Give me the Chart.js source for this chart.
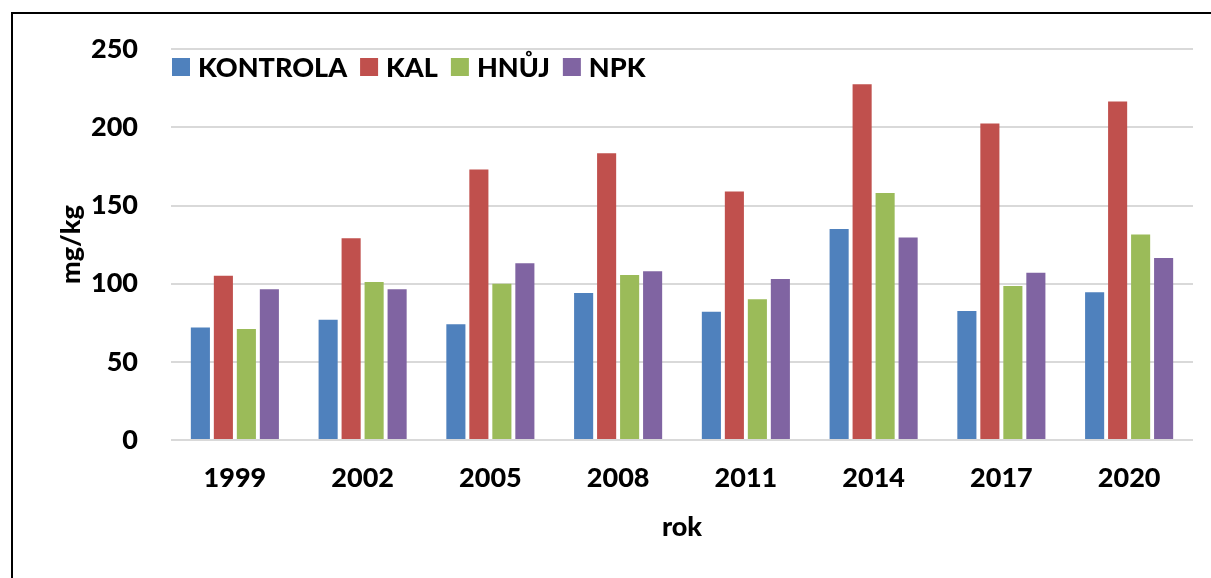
<!DOCTYPE html>
<html>
<head>
<meta charset="utf-8">
<script src="https://cdn.jsdelivr.net/npm/chart.js@4"></script>
<style>
  body { margin: 0; background: #fff; }
  #ramecek { position: absolute; left: 11px; top: 12px; width: 1230px; height: 620px; border: 2px solid #000; }
  #obal { position: absolute; left: 0; top: 0; width: 1211px; height: 578px; }
</style>
</head>
<body>
<div id="ramecek"></div>
<div id="obal"><canvas id="graf"></canvas></div>
<script>
// roky odběru
var roky = ['1999', '2002', '2005', '2008', '2011', '2014', '2017', '2020'];
// hodnoty mg/kg
var kontrola = [72, 77, 74, 94, 82, 135, 82.5, 94.5];
var kal = [105, 129, 173, 183.5, 159, 227.5, 202.5, 216.5];
var hnuj = [71, 101, 100, 105.5, 90, 158, 98.5, 131.5];
var npk = [96.5, 96.5, 113, 108, 103, 129.5, 107, 116.5];
var osaY = [0, 50, 100, 150, 200, 250];

var pismo = { family: 'Lato', size: 27, weight: '900' };

function rada(nazev, hodnoty, barva) {
  return {
    label: nazev,
    data: hodnoty,
    backgroundColor: barva,
    barPercentage: 0.83,
    categoryPercentage: 0.72
  };
}

// legenda uvnitř grafu (jako v Excelu)
var legenda = {
  id: 'legenda',
  afterDatasetsDraw: function (chart) {
    var ctx = chart.ctx;
    var x = chart.chartArea.left + 1;
    var y = 67;
    ctx.save();
    ctx.font = '900 27px Lato';
    ctx.textBaseline = 'middle';
    ctx.textAlign = 'left';
    chart.data.datasets.forEach(function (ds) {
      ctx.fillStyle = ds.backgroundColor;
      ctx.fillRect(x, y - 9, 18, 18);
      x += 26;
      ctx.fillStyle = '#000';
      ctx.fillText(ds.label, x, y + 1);
      x += ctx.measureText(ds.label).width + 13;
    });
    ctx.restore();
  }
};

var config = {
  type: 'bar',
  data: {
    labels: roky,
    datasets: [
      rada('KONTROLA', kontrola, '#4F81BD'),
      rada('KAL', kal, '#C0504D'),
      rada('HNŮJ', hnuj, '#9BBB59'),
      rada('NPK', npk, '#8064A2')
    ]
  },
  options: {
    responsive: false,
    animation: false,
    layout: { padding: { left: 0, right: 18, top: 46, bottom: 0 } },
    plugins: {
      legend: { display: false },
      tooltip: { enabled: false }
    },
    scales: {
      x: {
        grid: { display: false },
        border: { display: false },
        ticks: { color: '#000', font: pismo, padding: 14 },
        title: { display: true, text: 'rok', color: '#000', font: pismo, padding: { top: 0, bottom: 35 } },
        afterFit: function (s) { s.height = 138; }
      },
      y: {
        min: 0,
        max: 250,
        afterBuildTicks: function (s) { s.ticks = osaY.map(function (v) { return { value: v }; }); },
        grid: { color: '#D9D9D9', lineWidth: 2, drawTicks: false },
        border: { display: false },
        ticks: { color: '#000', font: pismo, padding: 33 },
        title: { display: true, text: 'mg/kg', color: '#000', font: pismo, padding: { top: 55, bottom: 0 } },
        afterFit: function (s) { s.width = 171; }
      }
    }
  },
  plugins: [legenda]
};

var canvas = document.getElementById('graf');
canvas.width = 1211;
canvas.height = 578;
var graf = new Chart(canvas, config);
</script>
</body>
</html>
